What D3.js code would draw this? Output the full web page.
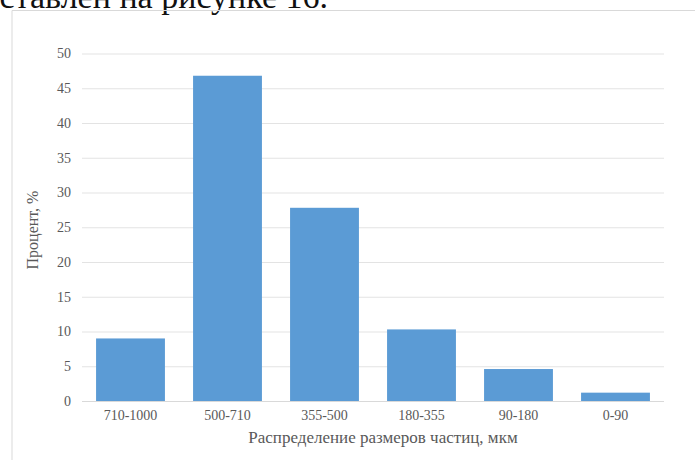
<!DOCTYPE html>
<html lang="ru">
<head>
<meta charset="utf-8">
<script src="https://cdn.jsdelivr.net/npm/d3@7"></script>
<style>
  html, body { margin: 0; padding: 0; background: #fff; }
  svg { display: block; }
  text { font-family: "Liberation Serif", "Times New Roman", serif; }
</style>
</head>
<body>
<svg id="chart" width="695" height="460"></svg>
<script>
// Particle size fractions, µm
const categories = ["710-1000", "500-710", "355-500", "180-355", "90-180", "0-90"];
// Share of each fraction, %
const percents = [9.0, 46.8, 27.8, 10.3, 4.6, 1.2];
// Value axis ticks
const yTicks = [0, 5, 10, 15, 20, 25, 30, 35, 40, 45, 50];

const svg = d3.select("#chart");

// Tail of the preceding paragraph line, running off the top of the page
svg.append("text")
  .attr("x", 328).attr("y", 8)
  .attr("text-anchor", "end")
  .attr("font-size", 34)
  .attr("fill", "#111")
  .text("представлен на рисунке 16.");

// Chart frame (only top and left edges fall inside the page)
svg.append("path")
  .attr("d", "M12,470 L12,10.5 L700,10.5")
  .attr("fill", "none")
  .attr("stroke", "#d9d9d9")
  .attr("stroke-width", 1);

const plot = { left: 82, right: 664, top: 53.5, bottom: 401 };

const x = d3.scaleBand()
  .domain(categories)
  .range([plot.left, plot.right])
  .paddingInner(0.29)
  .paddingOuter(0.145);

const y = d3.scaleLinear()
  .domain([0, 50])
  .range([plot.bottom, plot.top]);

// Horizontal gridlines with value labels
const yAxis = d3.axisLeft(y)
  .tickValues(yTicks)
  .tickSize(-(plot.right - plot.left))
  .tickPadding(11)
  .tickFormat(d3.format("d"));

const gy = svg.append("g")
  .attr("transform", `translate(${plot.left},0)`)
  .call(yAxis);
gy.select(".domain").remove();
gy.selectAll(".tick line")
  .attr("stroke", "#e3e3e3")
  .attr("stroke-width", 1);
gy.selectAll(".tick text")
  .attr("font-size", 14)
  .attr("fill", "#595959")
  .style("font-family", "'Liberation Serif', serif");

// Bars
svg.append("g")
  .selectAll("rect")
  .data(categories)
  .join("rect")
  .attr("x", d => x(d))
  .attr("width", x.bandwidth())
  .attr("y", (d, i) => y(percents[i]))
  .attr("height", (d, i) => y(0) - y(percents[i]))
  .attr("fill", "#5b9bd5");

// Category axis
const xAxis = d3.axisBottom(x).tickSize(0).tickPadding(9);
const gx = svg.append("g")
  .attr("transform", `translate(0,${plot.bottom})`)
  .call(xAxis);
gx.select(".domain")
  .attr("stroke", "#d9d9d9")
  .attr("d", `M${plot.left},0.5H${plot.right}`);
gx.selectAll(".tick text")
  .attr("font-size", 14)
  .attr("fill", "#595959")
  .style("font-family", "'Liberation Serif', serif");

// Axis titles
svg.append("text")
  .attr("transform", "translate(38,230) rotate(-90)")
  .attr("text-anchor", "middle")
  .attr("font-size", 16)
  .attr("fill", "#595959")
  .text("Процент, %");

svg.append("text")
  .attr("x", 383).attr("y", 443)
  .attr("text-anchor", "middle")
  .attr("font-size", 17)
  .attr("fill", "#595959")
  .text("Распределение размеров частиц, мкм");
</script>
</body>
</html>
